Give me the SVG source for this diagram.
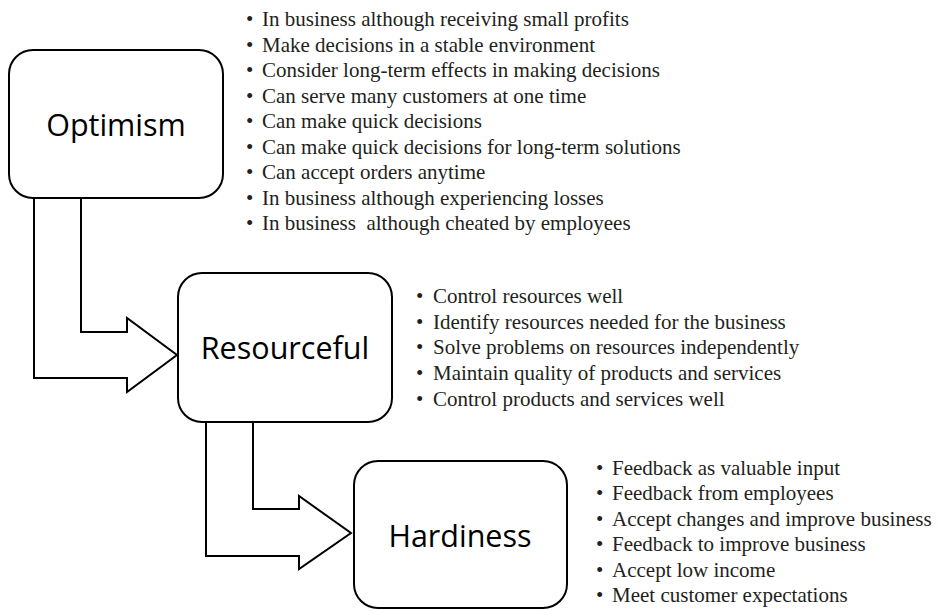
<svg xmlns="http://www.w3.org/2000/svg" width="940" height="610" viewBox="0 0 940 610">
<style>
.box{fill:#fff;stroke:#000;stroke-width:2}
.arr{fill:#fff;stroke:#000;stroke-width:2;stroke-linejoin:miter}
.lbl{font-family:"Open Sans","Noto Sans",sans-serif;font-size:30.5px;fill:#000;text-anchor:middle}
.li{font-family:"Liberation Serif",serif;font-size:21px;fill:#231f20}
</style>
<rect width="940" height="610" fill="#fff"/>
<g id="connectors">
<path class="arr" d="M34,198 V378 H127 V392 L177,355 L127,318 V332 H81 V198"/>
<path class="arr" d="M206,422 V556 H299 V569 L351,533 L299,496 V509 H253 V422"/>
</g>
<g id="optimism">
<rect class="box" x="9" y="50" width="214" height="148" rx="24"/>
<text class="lbl" x="116" y="136">Optimism</text>
</g>
<g id="resourceful">
<rect class="box" x="178" y="273" width="214" height="149" rx="24"/>
<text class="lbl" x="285" y="359">Resourceful</text>
</g>
<g id="hardiness">
<rect class="box" x="354" y="461" width="213" height="147" rx="24"/>
<text class="lbl" x="460" y="547">Hardiness</text>
</g>
<g id="optimism-list" class="li">
<text x="246" y="26">•</text><text x="262" y="26">In business although receiving small profits</text>
<text x="246" y="51.5">•</text><text x="262" y="51.5">Make decisions in a stable environment</text>
<text x="246" y="77">•</text><text x="262" y="77">Consider long-term effects in making decisions</text>
<text x="246" y="102.5">•</text><text x="262" y="102.5">Can serve many customers at one time</text>
<text x="246" y="128">•</text><text x="262" y="128">Can make quick decisions</text>
<text x="246" y="153.5">•</text><text x="262" y="153.5">Can make quick decisions for long-term solutions</text>
<text x="246" y="179">•</text><text x="262" y="179">Can accept orders anytime</text>
<text x="246" y="204.5">•</text><text x="262" y="204.5">In business although experiencing losses</text>
<text x="246" y="230">•</text><text x="262" y="230" xml:space="preserve">In business  although cheated by employees</text>
</g>
<g id="resourceful-list" class="li">
<text x="416" y="303">•</text><text x="433" y="303">Control resources well</text>
<text x="416" y="328.7">•</text><text x="433" y="328.7">Identify resources needed for the business</text>
<text x="416" y="354.4">•</text><text x="433" y="354.4">Solve problems on resources independently</text>
<text x="416" y="380.1">•</text><text x="433" y="380.1">Maintain quality of products and services</text>
<text x="416" y="405.8">•</text><text x="433" y="405.8">Control products and services well</text>
</g>
<g id="hardiness-list" class="li">
<text x="596" y="475">•</text><text x="612" y="475">Feedback as valuable input</text>
<text x="596" y="500.4">•</text><text x="612" y="500.4">Feedback from employees</text>
<text x="596" y="525.8">•</text><text x="612" y="525.8">Accept changes and improve business</text>
<text x="596" y="551.2">•</text><text x="612" y="551.2">Feedback to improve business</text>
<text x="596" y="576.6">•</text><text x="612" y="576.6">Accept low income</text>
<text x="596" y="602">•</text><text x="612" y="602">Meet customer expectations</text>
</g>
</svg>
